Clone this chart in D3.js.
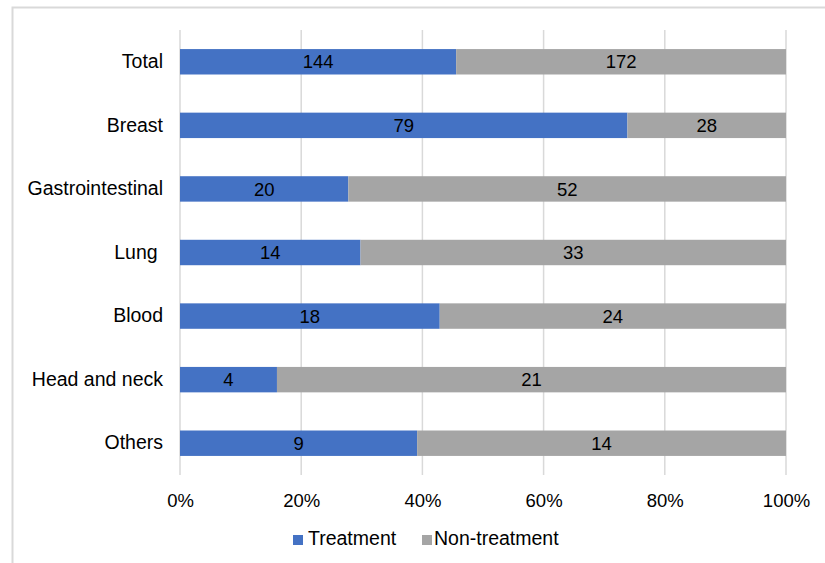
<!DOCTYPE html>
<html><head><meta charset="utf-8">
<script src="https://cdn.jsdelivr.net/npm/d3@7"></script>
<style>body{margin:0;background:#fff}svg{display:block}text{font-family:"Liberation Sans",Arial,sans-serif;white-space:pre}</style>
</head><body><svg id="c" width="825" height="563"></svg>
<script>
const categories = ["Total","Breast","Gastrointestinal","Lung ","Blood","Head and neck","Others"];
const treatment = [144,79,20,14,18,4,9];
const nonTreatment = [172,28,52,33,24,21,14];
const seriesNames = ["Treatment","Non-treatment"];
const colors = ["#4472C4","#A5A5A5"];
const tickValues = [0,0.2,0.4,0.6,0.8,1.0];

(function(){
const svg = d3.select("#c");
svg.append("rect").attr("x",12.5).attr("y",7.5).attr("width",830).attr("height",570)
  .attr("fill","#fff").attr("stroke","#d9d9d9").attr("stroke-width",2);

const pL=180, pR=786, pT=30, pB=475;
const x = d3.scaleLinear().domain([0,1]).range([pL,pR]);
const y = d3.scaleBand().domain(categories).range([pT,pB]).paddingInner(0.6).paddingOuter(0.3);

svg.append("g").selectAll("line").data(tickValues).join("line")
  .attr("x1",d=>x(d)).attr("x2",d=>x(d)).attr("y1",pT).attr("y2",pB)
  .attr("stroke","#d9d9d9").attr("stroke-width",1.5);

const rows = categories.map((c,i)=>({c, vals:[treatment[i], nonTreatment[i]], total: treatment[i]+nonTreatment[i]}));
const fsVal = 18.5, fsY = 19.5, fsX = 18.5, fsLeg = 19.5;
rows.forEach(r=>{
  let acc=0;
  r.vals.forEach((v,j)=>{
    const x0 = x(acc/r.total), x1 = x((acc+v)/r.total);
    svg.append("rect").attr("x",x0).attr("y",y(r.c)).attr("width",x1-x0).attr("height",y.bandwidth())
      .attr("fill",colors[j]);
    svg.append("text").attr("x",(x0+x1)/2).attr("y",y(r.c)+y.bandwidth()/2).attr("dy","0.36em")
      .attr("text-anchor","middle").attr("font-size",fsVal).attr("fill","#000").text(v);
    acc+=v;
  });
});

const yAxis = d3.axisLeft(y).tickSize(0).tickPadding(17);
const ga = svg.append("g").attr("transform",`translate(${pL},0)`).call(yAxis);
ga.select(".domain").remove();
ga.selectAll("text").attr("font-size",fsY).attr("fill","#000").style("font-family",'"Liberation Sans",Arial,sans-serif').style("white-space","pre");

const xAxis = d3.axisBottom(x).tickValues(tickValues).tickFormat(d3.format(".0%")).tickSize(0).tickPadding(19);
const gx = svg.append("g").attr("transform",`translate(0,${pB})`).call(xAxis);
gx.select(".domain").remove();
gx.selectAll("text").attr("font-size",fsX).attr("fill","#000").style("font-family",'"Liberation Sans",Arial,sans-serif');

const legSq=[293,422], legTx=[308,434];
seriesNames.forEach((n,i)=>{
  svg.append("rect").attr("x",legSq[i]).attr("y",535).attr("width",10).attr("height",10).attr("fill",colors[i]);
  svg.append("text").attr("x",legTx[i]).attr("y",545).attr("font-size",fsLeg).attr("fill","#000").text(n);
});
})();
</script></body></html>
